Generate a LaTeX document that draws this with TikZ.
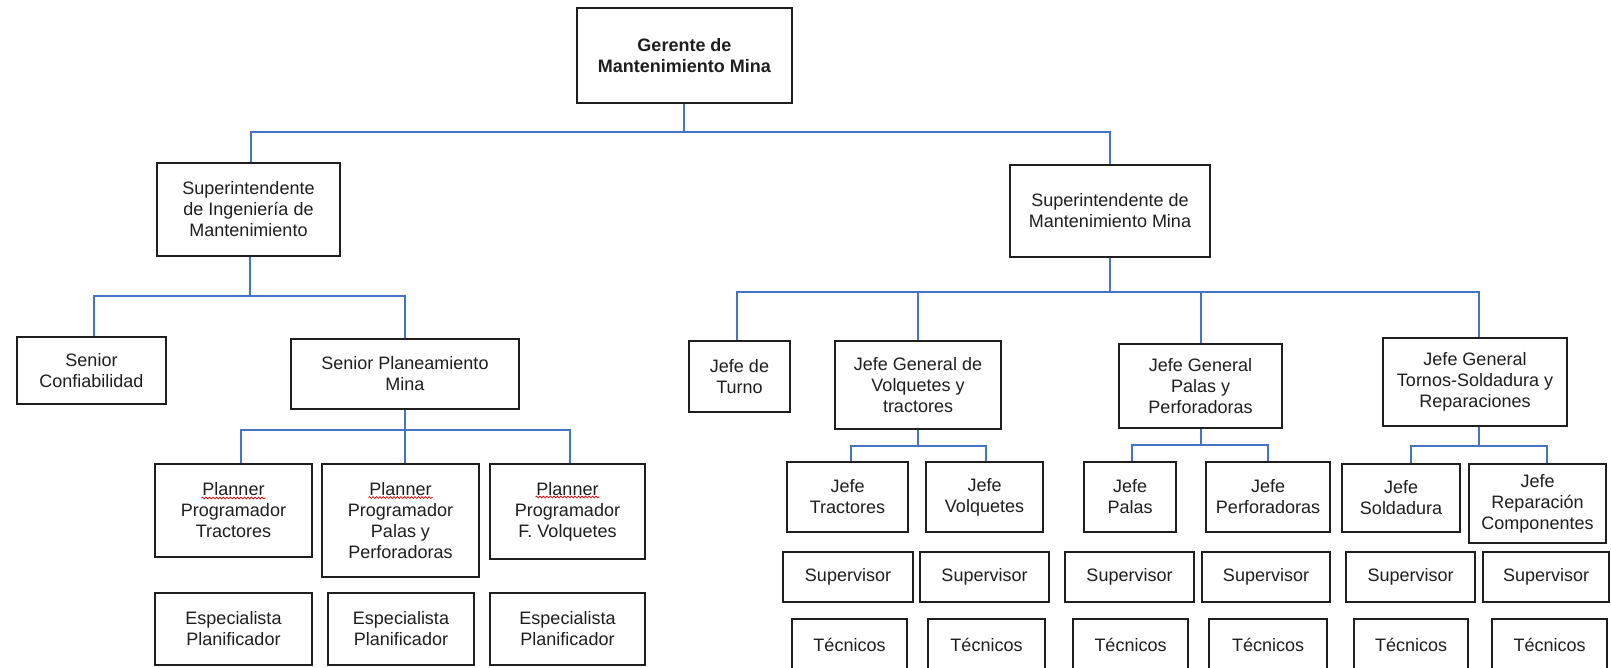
\documentclass[tikz,border=0pt]{standalone}
\usepackage{fontspec}
\setmainfont{Liberation Sans}
\usetikzlibrary{decorations.pathmorphing}
\definecolor{linkblue}{RGB}{68,114,196}
\definecolor{inkgray}{RGB}{30,30,30}

% \orgbox{name}{left}{top}{right}{bottom}{text}  (y grows downwards)
\newcommand{\orgbox}[6]{%
  \node[orgbox, minimum width={(#4-#2)*1pt}, minimum height={(#5-#3)*1pt}]
    (#1) at ({(#2+#4)/2},{(#3+#5)/2}) {#6};}

\tikzset{
  orgbox/.style={draw=inkgray, line width=2pt, fill=white, inner sep=2pt,
    align=center, text=inkgray, font=\fontsize{18}{21}\selectfont},
  conn/.style={draw=linkblue, line width=2pt},
  spell/.style={draw=red!85!black, line width=0.7pt,
    decorate, decoration={snake, amplitude=0.9pt, segment length=3.5pt}}
}

\begin{document}
\begin{tikzpicture}[x=1pt, y=-1pt]
\useasboundingbox (0,0) rectangle (1611,667);
\clip (0,0) rectangle (1611,667);

% ---- top levels
\orgbox{ger}{577}{8}{792}{103}{\textbf{Gerente de}\\\textbf{Mantenimiento Mina}}
\orgbox{supI}{157}{163}{340}{256}{Superintendente\\de Ingeniería de\\Mantenimiento}
\orgbox{supM}{1010}{165}{1210}{257}{Superintendente de\\Mantenimiento Mina}

% ---- engineering branch
\orgbox{senC}{17}{337}{166}{404}{Senior\\Confiabilidad}
\orgbox{senP}{291}{339}{519}{409}{Senior Planeamiento\\Mina}
\orgbox{pT}{155}{464}{312}{557}{Planner\\Programador\\Tractores}
\orgbox{pP}{322}{464}{479}{577}{Planner\\Programador\\Palas y\\Perforadoras}
\orgbox{pF}{490}{464}{645}{559}{Planner\\Programador\\F. Volquetes}
\orgbox{eT}{155}{593}{312}{665}{Especialista\\Planificador}
\orgbox{eP}{328}{593}{474}{665}{Especialista\\Planificador}
\orgbox{eF}{490}{593}{645}{665}{Especialista\\Planificador}

% ---- mine maintenance branch
\orgbox{jT}{689}{341}{790}{412}{Jefe de\\Turno}
\orgbox{jgV}{835}{341}{1001}{429}{Jefe General de\\Volquetes y\\tractores}
\orgbox{jgP}{1119}{344}{1282}{428}{Jefe General\\Palas y\\Perforadoras}
\orgbox{jgTo}{1383}{338}{1567}{426}{Jefe General\\Tornos-Soldadura y\\Reparaciones}

\orgbox{jTr}{787}{462}{908}{532}{Jefe\\Tractores}
\orgbox{jVo}{926}{462}{1043}{532}{Jefe\\Volquetes}
\orgbox{jPa}{1084}{462}{1176}{532}{Jefe\\Palas}
\orgbox{jPe}{1206}{462}{1330}{532}{Jefe\\Perforadoras}
\orgbox{jSo}{1342}{464}{1460}{532}{Jefe\\Soldadura}
\orgbox{jRe}{1469}{464}{1606}{543}{Jefe\\Reparación\\Componentes}

\orgbox{s1}{783}{552}{913}{602}{Supervisor}
\orgbox{s2}{920}{552}{1049}{602}{Supervisor}
\orgbox{s3}{1065}{552}{1194}{602}{Supervisor}
\orgbox{s4}{1202}{552}{1330}{602}{Supervisor}
\orgbox{s5}{1346}{552}{1475}{602}{Supervisor}
\orgbox{s6}{1483}{552}{1609}{602}{Supervisor}

\orgbox{t1}{792}{619}{907}{671}{Técnicos}
\orgbox{t2}{928}{619}{1045}{671}{Técnicos}
\orgbox{t3}{1073}{619}{1188}{671}{Técnicos}
\orgbox{t4}{1209}{619}{1327}{671}{Técnicos}
\orgbox{t5}{1354}{619}{1468}{671}{Técnicos}
\orgbox{t6}{1492}{619}{1607}{671}{Técnicos}

% ---- spelling marks under "Planner"
\draw[spell] ([shift={(-32,-12.5)}]pT.center) -- ([shift={(32,-12.5)}]pT.center);
\draw[spell] ([shift={(-32,-23)}]pP.center) -- ([shift={(32,-23)}]pP.center);
\draw[spell] ([shift={(-32,-14.5)}]pF.center) -- ([shift={(32,-14.5)}]pF.center);

% ---- bar levels of the connectors
\coordinate (lv1) at (0,132);
\coordinate (lv2) at (0,296);
\coordinate (lv3) at (0,430);
\coordinate (lv4) at (0,292);
\coordinate (lv5) at (0,446);
\coordinate (lv6) at (0,445);
\coordinate (lv7) at (0,446);

% ---- connectors
\draw[conn] ([xshift=-0.5pt]ger.south) -- ([xshift=-0.5pt]ger.south |- lv1);
\draw[conn] ([xshift=2.5pt]supI.north) |- (lv1 -| supM.north) -- (supM.north);

\draw[conn] ([xshift=1.5pt]supI.south) -- ([xshift=1.5pt]supI.south |- lv2);
\draw[conn] ([xshift=2.5pt]senC.north) |- (lv2 -| senP.north) -- (senP.north);

\draw[conn] (senP.south) -- (senP.south |- pP.north);
\draw[conn] ([xshift=7.5pt]pT.north) |- ([xshift=2.5pt]pF.north |- lv3) -- ([xshift=2.5pt]pF.north);

\draw[conn] (supM.south) -- (supM.south |- lv4);
\draw[conn] ([xshift=-2.5pt]jT.north) |- ([xshift=4pt]jgTo.north |- lv4) -- ([xshift=4pt]jgTo.north);
\draw[conn] (jgV.north) -- (jgV.north |- lv4);
\draw[conn] ([xshift=0.5pt]jgP.north) -- ([xshift=0.5pt]jgP.north |- lv4);

\draw[conn] (jgV.south) -- (jgV.south |- lv5);
\draw[conn] ([xshift=3.5pt]jTr.north) |- ([xshift=1.5pt]jVo.north |- lv5) -- ([xshift=1.5pt]jVo.north);

\draw[conn] ([xshift=0.5pt]jgP.south) -- ([xshift=0.5pt]jgP.south |- lv6);
\draw[conn] ([xshift=2pt]jPa.north) |- (jPe.north |- lv6) -- (jPe.north);

\draw[conn] ([xshift=4pt]jgTo.south) -- ([xshift=4pt]jgTo.south |- lv7);
\draw[conn] ([xshift=10pt]jSo.north) |- ([xshift=9.5pt]jRe.north |- lv7) -- ([xshift=9.5pt]jRe.north);
\end{tikzpicture}
\end{document}
